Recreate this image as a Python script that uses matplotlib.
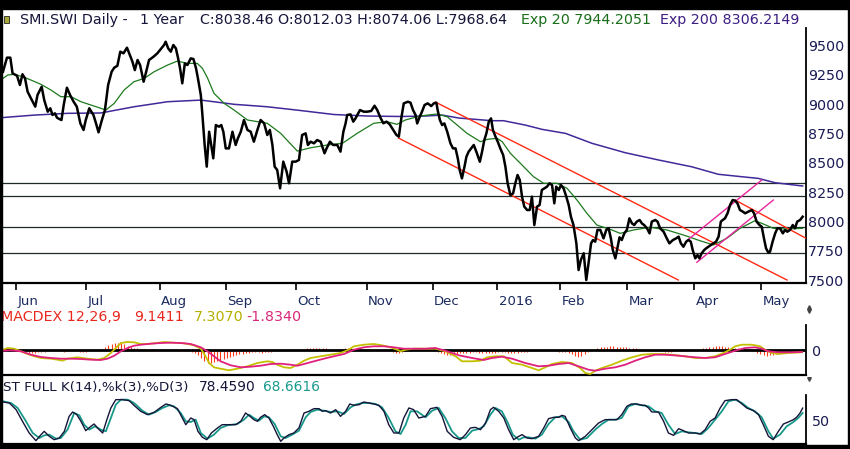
import matplotlib
matplotlib.use("Agg")
import matplotlib.pyplot as plt
from matplotlib.patches import Rectangle
from matplotlib.lines import Line2D

# ---------------- data (x = trading-day index) ----------------
month_labels = ["Jun", "Jul", "Aug", "Sep", "Oct", "Nov", "Dec", "2016", "Feb", "Mar", "Apr", "May"]
month_pos = [4.06, 25.9, 49.1, 69.8, 91.7, 113.75, 134.4, 154.7, 174.4, 195.3, 216.25, 237.2]

price_day = [
    0, 1.25, 2.3, 3.0, 4.4, 5.3, 6.1, 6.9, 7.7, 8.75,
    10.1, 10.8, 12.1, 12.9, 14.0, 14.8, 15.5, 16.25, 16.9, 17.6,
    18.3, 19.0, 20.0, 21.0, 22.1, 23.1, 24.2, 25.2, 25.9, 27.0,
    28.3, 29.1, 29.9, 30.8, 31.9, 32.9, 34.0, 34.8, 35.8, 36.7,
    37.7, 38.8, 39.5, 40.5, 41.25, 42.1, 42.9, 44.0, 44.8, 45.7,
    47.1, 48.3, 49.4, 50.4, 50.9, 51.7, 52.5, 53.3, 54.1, 54.8,
    55.4, 56.1, 56.9, 57.7, 58.75, 59.6, 60.4, 61.0, 61.9, 62.4,
    63.1,
    63.75, 64.5, 65.8, 66.6, 67.6, 68.3, 68.95, 69.7, 70.7, 71.8,
    72.8, 73.5, 74.4, 75.4, 76.5, 77.5, 78.5, 79.6, 80.6, 81.7,
    82.7, 83.5, 84.3, 85.0, 85.8, 86.7, 87.7, 88.75, 89.5, 90.5,
    91.6, 92.6, 93.6, 94.7, 95.4, 96.25, 97.3, 98.3, 99.4, 100.6,
    101.25, 102.3, 103.3, 104.6, 105.6, 106.5, 107.2, 107.7, 108.75, 109.6,
    110.3, 111.7, 112.9, 114.0, 115.2, 116.25, 117.1, 118.1, 119.0, 120.0,
    121.0, 122.1, 123.1, 123.85, 124.7,
    125.4, 126.7, 127.5, 128.3, 129.1, 129.6, 130.4, 131.1, 131.9, 132.9,
    134.0, 134.8, 135.6, 136.0, 136.7, 137.4, 138.1, 139.0, 140.0, 140.8,
    141.6, 142.3, 142.9, 143.6, 144.4, 145.0, 145.7, 146.5, 147.3, 148.1,
    149.2, 149.9, 150.6, 151.25, 152.0, 152.7, 153.3, 154.1, 154.8, 155.6,
    156.5, 157.2, 157.9, 158.75, 159.6, 160.3, 161.0, 161.7, 162.4, 163.1,
    164.0, 164.8, 165.5, 166.25, 167.1, 167.9, 168.6, 169.4, 170.2, 171.0,
    171.8, 172.5, 173.1, 173.9, 174.6, 175.4, 176.25, 177.0, 177.7, 178.5,
    179.4, 180.1, 180.8, 181.7, 182.5, 183.2, 184.0, 184.6, 185.3, 186.0,
    186.9, 187.9, 188.75, 189.5, 190.2, 190.8, 191.6, 192.3, 192.9, 193.6,
    194.4, 195.2, 196.0, 196.8, 197.5, 198.3, 199.2, 199.9, 200.6, 201.5,
    202.3, 203.0, 204.1, 204.8, 205.6, 206.7, 207.7, 208.5, 209.6, 210.6,
    211.4, 212.1, 212.9, 213.75, 214.5, 215.2, 215.8, 216.6, 217.3, 217.9,
    218.6, 219.4, 220.0, 220.7, 221.5, 222.3, 223.1, 223.9, 224.6, 225.2,
    225.9, 226.7, 227.5, 228.3, 229.1, 229.8, 230.6, 231.5, 232.2, 233.2,
    234.3, 235.0, 235.8, 236.7, 237.4, 238.1, 238.75, 239.5, 240.0, 240.8,
    241.6, 242.3, 243.1, 244.0, 244.7, 245.4, 246.25, 247.1, 247.8, 248.5,
    249.4, 250.2]
price_close = [
    9277, 9397, 9397, 9263, 9243, 9164, 9255, 9220, 9107, 9050,
    8979, 9078, 9149, 9036, 8936, 8965, 8908, 8922, 8885, 8874,
    8865, 8993, 9141, 9078, 9021, 8979, 8837, 8780, 8865, 8965,
    8908, 8837, 8760, 8851, 8950, 9164, 9277, 9311, 9328, 9448,
    9434, 9482, 9434, 9363, 9291, 9377, 9334, 9192, 9277, 9377,
    9405, 9434, 9471, 9505, 9533, 9476, 9448, 9505, 9476, 9391,
    9306, 9178, 9348, 9334, 9391, 9385, 9306, 9220, 9078, 8908,
    8652,
    8467, 8765, 8538, 8822, 8808, 8822, 8765, 8623, 8623, 8765,
    8652, 8709, 8765, 8865, 8780, 8765, 8680, 8780, 8865, 8837,
    8737, 8780, 8652, 8467, 8439, 8282, 8510, 8424, 8325, 8510,
    8510, 8524, 8737, 8751, 8652, 8680, 8666, 8694, 8680, 8581,
    8623, 8680, 8652, 8652, 8595, 8765, 8837, 8908, 8913, 8851,
    8879, 8950, 8936, 8936, 8942, 8987, 8950, 8885, 8837, 8851,
    8828, 8780, 8737, 8723, 8893,
    9007, 9021, 9013, 8950, 8907, 8836, 8893, 8936, 8993, 9007,
    8984, 9007, 9013, 8950, 8865, 8822, 8836, 8765, 8666, 8623,
    8623, 8538, 8438, 8367, 8467, 8552, 8595, 8623, 8652, 8595,
    8509, 8595, 8694, 8751, 8851, 8879, 8780, 8723, 8680, 8623,
    8566, 8467, 8325, 8225, 8239, 8325, 8396, 8353, 8211, 8126,
    8097, 8097, 8211, 7969, 8126, 8140, 8268, 8282, 8296, 8325,
    8310, 8154, 8296, 8268, 8310, 8282, 8211, 8140, 8040, 7969,
    7813, 7585, 7671, 7728, 7500, 7642, 7813, 7841, 7827, 7927,
    7927, 7855, 7927, 7941, 7855, 7756, 7685, 7784, 7864, 7841,
    7898, 7927, 8026, 7983, 7969, 7998, 8012, 7983, 7969, 7941,
    7898, 7998, 8012, 7998, 7941, 7912, 7855, 7813, 7841, 7855,
    7870, 7813, 7784, 7827, 7841, 7827, 7756, 7685, 7713, 7685,
    7728, 7756, 7770, 7784, 7799, 7813, 7827, 7870, 7998, 8012,
    8026, 8069, 8140, 8182, 8177, 8154, 8097, 8083, 8069, 8083,
    8097, 8069, 7998, 7969, 7955, 7855, 7770, 7733, 7742, 7827,
    7898, 7941, 7941, 7898, 7927, 7912, 7927, 7969, 7941, 7998,
    8012, 8040]

ema20_day = [0, 1.5, 3.5, 6.2, 8.75, 11.9, 15, 18.1, 21.25, 24.4,
             27.5, 30.6, 32.2, 34.8, 37.9, 41.0, 44.2, 47.3, 51.5, 54.6,
             57.7, 60.8, 62.4, 64.0, 66.0, 69.2, 72.3, 76.5, 82.7, 86.9,
             92.1, 96.25, 101.5, 106.2, 110.8, 116.0, 120.2, 123.3, 125.9, 129.6,
             132.7, 135.8, 139.0, 142.1, 145.2, 149.4, 151.5, 154.6, 156.2, 158.75,
             161.9, 166.0, 169.2, 173.3, 176.5, 179.6, 182.7, 185.8, 190.5, 193.1,
             197.3, 202.5, 207.7, 212.9, 218.1, 222.3, 226.5, 230.6, 235.3, 237.9,
             241.0, 245.2, 250.2]
ema20_val = [9220, 9249, 9255, 9234, 9206, 9169, 9121, 9064, 9064, 9021,
             8993, 8965, 8950, 9007, 9121, 9192, 9220, 9277, 9334, 9368,
             9348, 9348, 9306, 9223, 9093, 9007, 8950, 8865, 8837, 8751,
             8600, 8628, 8652, 8666, 8751, 8837, 8850, 8828, 8865, 8893,
             8907, 8916, 8893, 8822, 8751, 8680, 8700, 8709, 8680, 8581,
             8495, 8381, 8325, 8325, 8282, 8182, 8069, 7969, 7927, 7898,
             7927, 7950, 7927, 7884, 7835, 7799, 7856, 7941, 8006, 7978,
             7941, 7935, 7941]

ema200_day = [0, 9.8, 20.2, 30.6, 41.0, 51.5, 61.9, 72.3, 82.7, 93.1,
              103.5, 114.0, 124.4, 132.2, 137.4, 142.6, 153.0, 156.6, 163.4, 168.7,
              176.0, 184.3, 194.7, 205.1, 215.5, 223.8, 231.2, 236.3, 241.6, 250.2]
ema200_val = [8886, 8907, 8922, 8925, 8978, 9021, 9035, 8999, 8978, 8946,
              8912, 8899, 8895, 8899, 8907, 8882, 8859, 8859, 8822, 8785,
              8751, 8666, 8586, 8524, 8466, 8402, 8381, 8367, 8330, 8302]

support_levels = [8327, 8217, 7955, 7728]
red_lines = [([135.3, 245.3], [9018, 7500]),
             ([123.75, 211.3], [8711, 7500]),
             ([229.1, 251.25], [8182, 7856])]
pink_lines = [([214.2, 237.4], [7841, 8353]),
              ([217.1, 241.0], [7651, 8182])]
price_ticks = [7500, 7750, 8000, 8250, 8500, 8750, 9000, 9250, 9500]

macd_day = [0, 1.5, 3.5, 5.6, 7.7, 9.8, 11.9, 15.0, 17.1, 18.6,
            20.2, 23.3, 26.5, 29.6, 31.7, 33.75, 35.3, 36.9, 39.0, 41.0,
            43.1, 45.2, 47.3, 50.4, 53.5, 56.7, 59.8, 61.9, 63.1, 64.5,
            66.0, 68.1, 70.7, 73.3, 76.5, 79.6, 82.7, 84.3, 85.8, 87.9,
            90.0, 92.1, 94.2, 96.25, 99.4, 102.5, 105.6, 108.2, 109.8, 112.9,
            116.0, 118.6, 121.25, 123.3, 124.4, 126.0, 128.5, 132.2,
            135.3, 138.4, 141.6, 143.6, 146.8, 149.4, 151.5, 154.1, 156.7, 159.3,
            162.4, 165.5, 167.6, 169.7, 171.8, 174.9, 178.0, 180.6, 182.2, 183.75,
            185.3, 187.4, 190.5, 193.6, 196.8, 199.9, 203.0, 206.1, 209.3, 213.4,
            216.6, 219.7, 222.8, 225.4, 227.5, 229.1, 231.2, 234.3, 236.9, 238.4,
            240.5, 242.6, 245.7, 250.0]
macd_val = [7, 23, 16, -10, -37, -60, -77, -84, -94, -104,
            -84, -70, -84, -94, -77, -27, 23, 73, 83, 80,
            63, 63, 70, 83, 76, 70, 50, 16, -44, -127,
            -170, -184, -200, -184, -160, -127, -110, -117, -144, -170,
            -177, -144, -104, -77, -60, -44, -27, 6, 40, 56,
            63, 50, 30, 6, -10, 6, 16, 16,
            16, -10, -60, -110, -110, -104, -70, -60, -60, -127,
            -144, -177, -200, -170, -137, -117, -127, -177, -227, -237,
            -204, -177, -144, -104, -70, -44, -37, -37, -44, -60,
            -77, -77, -60, -27, 6, 40, 56, 56, 40, 6,
            -27, -37, -27, -20]

signal_day = [0, 2.5, 5.6, 8.75, 11.9, 15.0, 18.1, 21.25, 24.4, 27.5,
              30.6, 32.7, 34.8, 36.9, 39.0, 41.0, 43.1, 46.25, 49.4, 52.5,
              55.6, 58.75, 61.9, 64.0, 66.0, 68.1, 71.25, 74.4, 77.5, 80.6,
              83.75, 86.9, 90.0, 92.1, 94.2, 97.3, 100.4, 103.5, 106.7, 109.8,
              112.9, 116.0, 119.2, 122.3, 125.4, 128.5, 132.2,
              135.3, 138.4, 142.6, 146.8, 150.4, 153.0, 156.1, 159.3, 163.4, 167.6,
              170.7, 173.9, 177.0, 180.1, 183.2, 185.3, 188.4, 191.6, 194.7, 197.8,
              200.9, 204.1, 207.2, 211.4, 215.5, 219.7, 222.8, 225.9, 229.1, 232.2,
              235.3, 237.4, 239.5, 242.6, 246.8, 250.0]
signal_val = [-4, 0, -10, -44, -67, -77, -84, -84, -87, -94,
              -97, -84, -54, -10, 23, 46, 56, 66, 73, 76,
              73, 63, 30, -10, -60, -110, -150, -170, -164, -154,
              -137, -134, -144, -154, -137, -110, -84, -60, -37, 6,
              30, 40, 40, 30, 16, 16, 16,
              23, -4, -50, -77, -97, -77, -64, -84, -127, -160,
              -154, -137, -127, -160, -194, -204, -184, -170, -144, -104,
              -70, -44, -44, -54, -67, -77, -70, -37, -4, 23,
              30, 16, -10, -20, -20, -17]

hist_val = [10, 15, 10, 5, -5, -10,
            -15, -20, -25, -30, -25, -20, -15,
            -15, -10, -10, -5, -5, -10, -15, -10, -5, -5, -10, -15, -20, -15, -10, -5, -5, -10,
            10, 30, 50, 60, 70, 75, 70, 60, 45, 35,
            25, 20, 15, 10, 10, 15, 15, 10, 5, 5, 10, 10, 5, 0, -5, -5, -10, -10,
            -15, -25, -50, -80, -110, -130, -125, -115,
            -105, -95, -85, -75, -65, -55, -45, -40, -35, -30, -25, -20,
            -20, -20, -25, -20, -15, -15, -10, -10, -5, -5, 0, 5, 10, 10, 15, 15, 20,
            20, 20, 25, 25, 20, 20, 15, 15, 10, 10, 15, 20, 20, 15, 15, 10, 10, 5, 5, 0,
            0, 5, 5, 0, -5, -10, -20, -30, -25, -15,
            -10, -5, 0, 5, 5, 10, 5,
            5, 0, -10, -20, -30, -40, -45, -45,
            -40, -35, -30, -30, -25, -25, -20, -20, -25, -30,
            -30, -30, -25, -25, -20, -20, -20, -25, -30, -30, -25, -20, -15, -15, -10,
            -10, -10, -5, -5, -5, -10, -10, -10, -15, -15, -20, -30, -40, -60, -70,
            -60, -40, -20, 0, 15, 25,
            30, 35, 35, 40, 40, 35, 35, 30, 30, 25, 25, 20, 15, 10,
            5, 0, -5, -10, -10, -10, -15, -15, -15, -10, -10, -10, -5, -5, 0,
            5, 10, 15, 20, 25, 30, 35, 40, 40, 40, 35, 35, 30, 25, 20,
            15, 10, 5, 0, -10, -25, -40, -50, -55, -50,
            -45, -40, -30, -20, -15, -10, -10, -5, -5, -5]
hist_day = list(range(len(hist_val)))

stk_day = [0, 2.0, 4.1, 6.1, 8.2, 10.3, 11.9, 12.9, 14.5, 16.0,
           17.6, 19.2, 20.7, 21.8, 23.1, 24.4, 25.9, 27.5, 28.5, 30.1,
           31.2, 32.5, 33.75, 35.3, 37.4, 39.5, 41.0, 43.1, 45.2, 47.3,
           49.4, 51.0, 52.5, 54.6, 56.1, 57.2, 58.75, 59.8, 61.0, 62.4,
           63.75, 65.2, 67.1, 68.6, 70.7, 72.8, 74.4, 75.9, 77.3, 78.5,
           79.6, 80.6, 81.9, 83.2, 84.6, 85.8, 86.9, 87.9, 89.5, 91.0,
           92.6, 94.2, 95.7, 97.3, 98.9, 99.9, 100.9, 102.5, 104.1, 105.6,
           107.2, 108.5, 109.8, 111.4, 112.9, 114.5, 116.0, 117.6, 119.2, 120.7,
           122.3, 123.9, 125.4, 127.0, 128.5, 130.1, 132.2,
           133.75, 135.8, 137.4, 139.0, 141.0, 143.1, 144.7, 146.25, 147.8, 149.4,
           151.0, 152.5, 153.5, 155.1, 156.7, 158.2, 159.8, 161.4, 162.4, 164.0,
           165.5, 167.6, 169.2, 170.7, 172.3, 173.9, 174.9, 175.9, 177.5, 179.1,
           180.1, 182.2, 184.3, 186.35, 188.4, 190.5, 192.1, 193.6, 195.2, 196.6,
           198.3, 199.9, 200.9, 202.0, 203.0, 205.1, 206.7, 208.2, 209.8, 211.4,
           212.9, 214.5, 216.6, 218.1, 219.7, 221.25, 222.8, 224.4, 225.9, 228.0,
           229.6, 231.2, 232.7, 234.8, 236.4, 237.9, 239.5, 241.0, 242.6, 244.2,
           245.7, 247.3, 248.3, 249.4, 250.2]
stk_val = [91.3, 89.1, 74.6, 49.3, 23.9, 7.3, 20.3, 27.5, 16.7, 9.4,
           13.0, 27.5, 60.1, 69.6, 63.8, 49.3, 29.0, 38.4, 43.5, 31.2,
           23.9, 52.9, 78.3, 96.4, 96.4, 94.2, 84.1, 71.0, 63.8, 68.8,
           79.7, 87.0, 84.1, 76.8, 56.5, 42.0, 56.5, 52.9, 27.5, 14.5,
           9.4, 23.9, 34.8, 42.0, 42.0, 42.0, 49.3, 67.4, 60.1, 52.9,
           49.3, 58.0, 63.8, 56.5, 38.4, 20.3, 5.8, 13.0, 20.3, 23.9,
           34.8, 67.4, 71.0, 76.8, 76.8, 71.0, 72.5, 67.4, 74.6, 60.1,
           71.0, 87.0, 84.1, 85.5, 91.3, 89.1, 87.0, 84.1, 71.0, 42.0,
           23.9, 23.9, 56.5, 78.3, 74.6, 56.5, 60.1,
           76.8, 79.7, 60.1, 27.5, 14.5, 9.4, 20.3, 34.8, 36.2, 31.2,
           45.6, 74.6, 79.7, 71.0, 56.5, 31.2, 9.4, 16.7, 20.3, 13.0,
           11.6, 16.7, 34.8, 55.1, 58.0, 58.0, 62.3, 60.1, 34.8, 13.0,
           7.3, 16.7, 31.2, 45.6, 52.9, 52.9, 52.9, 63.8, 81.9, 87.0,
           87.0, 84.1, 84.1, 78.3, 69.6, 69.6, 49.3, 23.9, 18.8, 33.3,
           29.0, 23.9, 23.9, 21.7, 31.2, 49.3, 56.5, 78.3, 94.2, 96.4,
           96.4, 87.0, 78.3, 72.5, 63.8, 42.0, 16.7, 9.4, 27.5, 43.5,
           47.8, 52.9, 58.0, 67.4, 78.0]

std_day = [0, 2.5, 4.6, 7.2, 9.3, 11.4, 12.9, 14.5, 16.6, 18.1,
           20.2, 22.3, 23.9, 25.4, 27.0, 28.75, 30.6, 32.2, 33.75, 35.3,
           36.9, 39.0, 41.0, 43.6, 45.7, 47.8, 49.9, 52.0, 53.5, 55.6,
           57.2, 58.75, 60.3, 61.9, 64.0, 66.0, 68.1, 70.2, 73.3, 75.4,
           77.0, 78.5, 80.1, 81.7, 83.2, 85.0, 86.9, 88.4, 90.5, 92.6,
           94.7, 96.25, 98.3, 100.4, 102.5, 104.6, 106.7, 108.75, 110.3, 112.4,
           114.5, 116.6, 118.6, 120.7, 122.8, 124.4, 126.0, 127.5, 129.6, 132.2,
           134.3, 136.35, 138.4, 140.5, 142.6, 144.7, 146.8, 148.9, 150.4, 152.5,
           154.1, 156.1, 158.0, 159.5, 161.4, 162.9, 164.5, 166.6, 168.6, 170.7,
           172.8, 174.9, 177.0, 178.5, 180.6, 182.7, 185.3, 187.4, 189.5, 191.6,
           193.6, 195.7, 197.8, 199.9, 202.0, 204.1, 206.1, 208.2, 210.3, 212.4,
           214.5, 216.6, 218.65, 220.7, 222.8, 224.9, 227.0, 229.1, 231.2, 233.2,
           235.3, 237.4, 239.5, 241.0, 243.1, 245.2, 247.3, 248.8, 250.2]
std_val = [92.8, 89.1, 78.3, 49.3, 23.9, 13.0, 18.8, 20.3, 11.6, 13.0,
           31.2, 67.4, 62.3, 42.0, 31.2, 38.4, 31.2, 27.5, 56.5, 85.5,
           96.4, 96.4, 89.1, 72.5, 63.8, 69.6, 78.3, 84.1, 81.9, 67.4,
           49.3, 47.8, 52.9, 23.9, 11.6, 20.3, 34.8, 40.6, 43.5, 52.9,
           63.8, 56.5, 50.7, 60.1, 58.0, 43.5, 16.7, 13.0, 20.3, 29.0,
           58.0, 69.6, 74.6, 72.5, 69.6, 71.0, 65.2, 79.7, 85.5, 89.1,
           89.1, 87.0, 79.7, 56.5, 27.5, 21.7, 42.0, 71.0, 71.0, 58.0,
           72.5, 78.3, 56.5, 27.5, 13.0, 13.0, 29.0, 32.6, 38.4, 63.8,
           78.3, 71.0, 45.6, 20.3, 9.4, 14.5, 14.5, 11.6, 20.3, 43.5,
           58.0, 60.1, 47.8, 27.5, 9.4, 13.0, 31.2, 43.5, 52.9, 52.9,
           56.5, 81.9, 87.0, 84.1, 81.9, 71.0, 67.4, 42.0, 21.7, 27.5,
           25.4, 23.9, 21.7, 34.8, 52.9, 71.0, 92.8, 96.4, 89.1, 78.3,
           71.0, 58.0, 27.5, 11.6, 20.3, 38.4, 47.8, 56.5, 67.4]

# ---------------- layout ----------------
W, H = 850, 449
fig = plt.figure(figsize=(W / 100, H / 100), dpi=100)
fig.patch.set_facecolor("white")
plt.rcParams["font.family"] = ["DejaVu Sans"]

def box(x0, y0, x1, y1):
    return [x0 / W, 1 - y1 / H, (x1 - x0) / W, (y1 - y0) / H]

def fxy(x, y):
    return (x / W, 1 - y / H)

XLIM = (-0.15, 251.25)
NAVY = "#1b1b55"
FS = 10.3

def style_panel(ax, bottom_lw=1.6):
    ax.set_facecolor("white")
    ax.set_xlim(*XLIM)
    for s in ("top", "left"):
        ax.spines[s].set_visible(False)
    ax.spines["right"].set_linewidth(1.3)
    ax.spines["right"].set_color("black")
    ax.spines["bottom"].set_linewidth(bottom_lw)
    ax.spines["bottom"].set_color("black")
    ax.yaxis.tick_right()
    ax.tick_params(axis="y", length=0, labelsize=FS, labelcolor=NAVY)

# main price panel
ax1 = fig.add_axes(box(2.5, 28, 806, 282.7))
style_panel(ax1)
ax1.set_ylim(7477, 9650)
for lvl in support_levels:
    ax1.axhline(lvl, color="#1f2b2a", lw=0.9, zorder=1)
ax1.plot(ema200_day, ema200_val, color="#42299a", lw=1.1, zorder=2)
ax1.plot(ema20_day, ema20_val, color="#1d7a1d", lw=0.9, zorder=3)
for xs, ys in red_lines:
    ax1.plot(xs, ys, color="#ff2a14", lw=1.0, zorder=4)
for xs, ys in pink_lines:
    ax1.plot(xs, ys, color="#e8259c", lw=1.0, zorder=4)
ax1.plot(price_day, price_close, color="black", lw=1.8, zorder=6,
         solid_joinstyle="round")
ax1.set_yticks(price_ticks)
ax1.set_yticklabels([str(v) for v in price_ticks])
ax1.tick_params(axis="y", pad=1.3)
ax1.set_xticks(month_pos)
ax1.set_xticklabels([])
ax1.tick_params(axis="x", direction="out", length=5.2, width=1.2, color="black")
for p, lab in zip(month_pos, month_labels):
    ax1.annotate(lab, xy=(p, 0), xycoords=("data", "axes fraction"),
                 xytext=(1.0, -13.3), textcoords="offset points",
                 ha="left", va="center", fontsize=9.5, color="#1b2a5e",
                 annotation_clip=False)

# MACD panel
ax2 = fig.add_axes(box(2.5, 325, 806, 374.7))
style_panel(ax2)
ax2.set_ylim(-244, 253)
ax2.vlines(hist_day, 0, hist_val, color="#ff3a1a", lw=0.8, zorder=1)
ax2.axhline(0, color="black", lw=2.0, zorder=2)
ax2.plot(macd_day, macd_val, color="#c4c000", lw=1.3, zorder=3)
ax2.plot(signal_day, signal_val, color="#e0207e", lw=1.3, zorder=4)
ax2.set_xticks([])
ax2.set_yticks([0])
ax2.set_yticklabels(["0"])
ax2.tick_params(axis="y", pad=4)

# Stochastic panel
ax3 = fig.add_axes(box(2.5, 395, 806, 444))
style_panel(ax3)
ax3.set_ylim(0, 106.5)
ax3.plot(std_day, std_val, color="#17998a", lw=1.3, zorder=2)
ax3.plot(stk_day, stk_val, color="#15153a", lw=1.0, zorder=3)
ax3.set_xticks([])
ax3.set_yticks([50])
ax3.set_yticklabels(["50"])
ax3.tick_params(axis="y", pad=4)

# ---------------- texts ----------------
def ftext(x, y, s, color, size=FS):
    fig.text(*fxy(x, y), s, color=color, fontsize=size, ha="left", va="center")

ftext(20, 20, "SMI.SWI Daily -", "#15153a")
ftext(140, 20, "1 Year", "#15153a")
ftext(200, 20, "C:8038.46 O:8012.03 H:8074.06 L:7968.64", "#15153a")
ftext(521, 20, "Exp 20 7944.2051", "#1a6e1a")
ftext(660, 20, "Exp 200 8306.2149", "#3c1e82")

ftext(1, 317.3, "MACDEX 12,26,9", "#e8281e")
ftext(134, 317.3, "9.1411", "#e8281e")
ftext(193.5, 317.3, "7.3070", "#b5b000")
ftext(246.6, 317.3, "-1.8340", "#d8287a")

ftext(3.3, 387, "ST FULL K(14),%k(3),%D(3)", "#15153a", size=9.7)
ftext(199, 387, "78.4590", "#15153a", size=9.9)
ftext(263, 387, "68.6616", "#1a998c", size=9.9)

# ---------------- frame & small glyphs ----------------
tf = fig.transFigure
fig.add_artist(Rectangle((0, 1 - 9 / H), 1, 9 / H, color="black", transform=tf, zorder=10))
fig.add_artist(Rectangle((0, 0), 2 / W, 1, color="black", transform=tf, zorder=10))
fig.add_artist(Rectangle((848 / W, 0), 2 / W, 1, color="black", transform=tf, zorder=10))
fig.add_artist(Rectangle((0, 0), 1, 4 / H, color="black", transform=tf, zorder=10))
fig.add_artist(Rectangle(fxy(3.5, 23), 5 / W, 7 / H, facecolor="#a8a838",
                         edgecolor="#202020", lw=0.6, transform=tf, zorder=11))
for (gx, gy, mk) in [(808.5, 306.5, "^"), (808.5, 311, "v"), (808.5, 378.5, "v")]:
    fig.add_artist(Line2D([gx / W], [1 - gy / H], marker=mk, markersize=2.6,
                          color="#444444", linestyle="none", transform=tf))

fig.savefig("out.png", dpi=100)
